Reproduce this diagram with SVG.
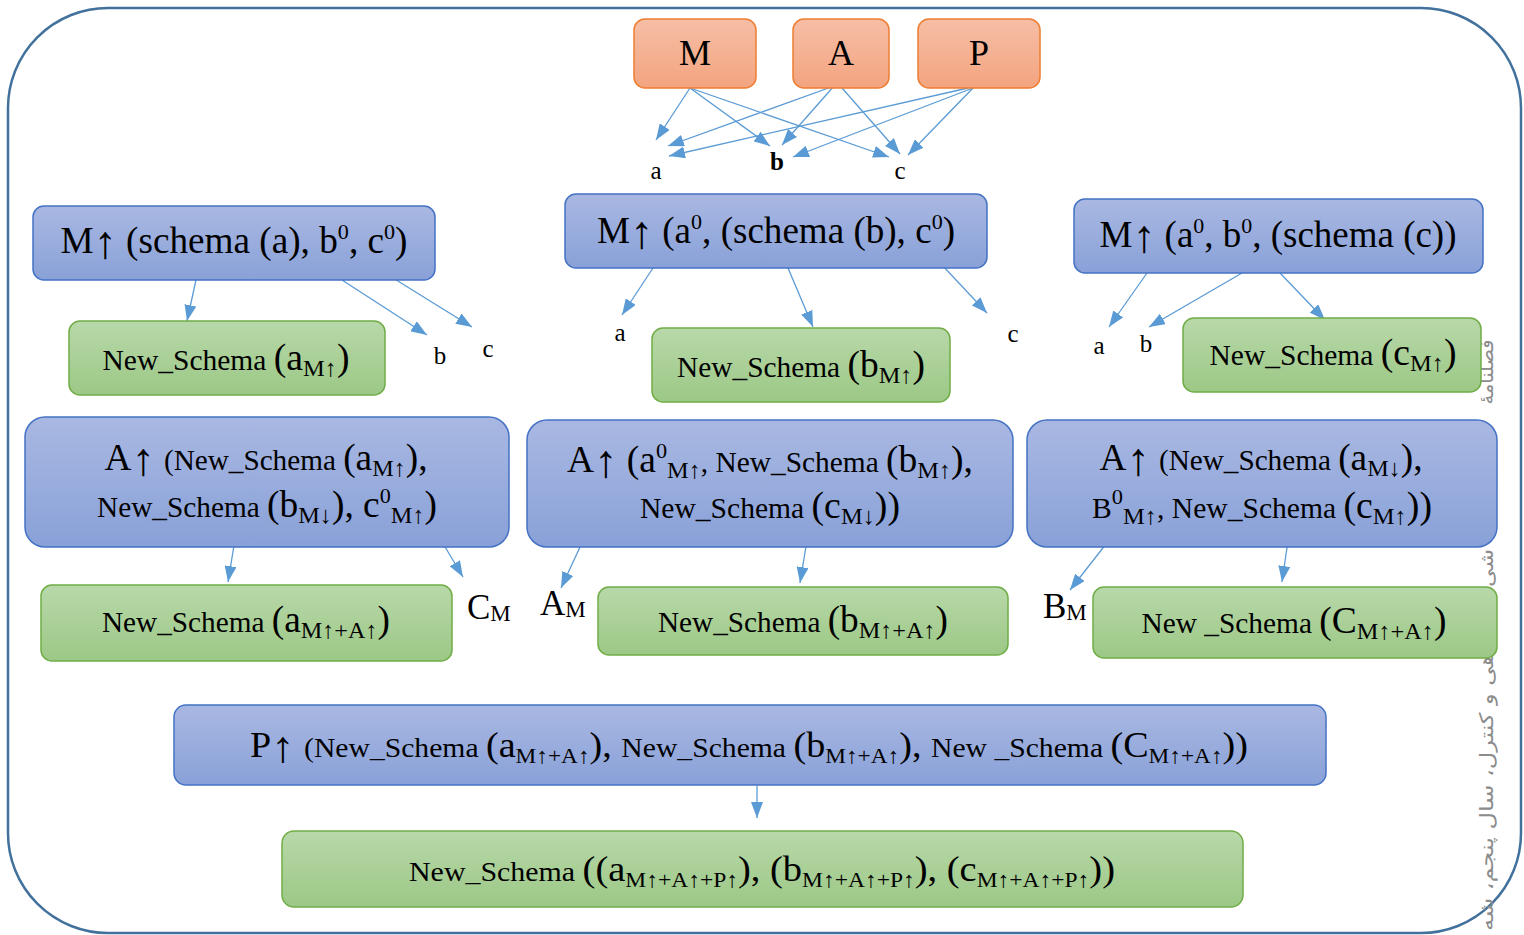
<svg xmlns="http://www.w3.org/2000/svg" width="1524" height="935" viewBox="0 0 1524 935">
<style>
.t{font-family:"Liberation Serif","Times New Roman",serif;fill:#000}
.lbl{font-family:"Liberation Serif","Times New Roman",serif;fill:#000;font-size:25px}
.blue{fill:url(#gBlue);stroke:#4472C4;stroke-width:1.5}
.green{fill:url(#gGreen);stroke:#70AD47;stroke-width:1.5}
.orange{fill:url(#gOrange);stroke:#ED7D31;stroke-width:1.5}
.con line{stroke:#5B9BD5;stroke-width:1.3;marker-end:url(#ah)}
.wm{font-family:"DejaVu Sans",sans-serif;fill:#8c8c8c;font-size:19px}
</style>
<defs>
<linearGradient id="gBlue" x1="0" y1="0" x2="0" y2="1"><stop offset="0" stop-color="#A9B8E2"/><stop offset="1" stop-color="#89A1D8"/></linearGradient>
<linearGradient id="gGreen" x1="0" y1="0" x2="0" y2="1"><stop offset="0" stop-color="#B8D8A9"/><stop offset="1" stop-color="#9CC886"/></linearGradient>
<linearGradient id="gOrange" x1="0" y1="0" x2="0" y2="1"><stop offset="0" stop-color="#F6BEA6"/><stop offset="1" stop-color="#F3A47F"/></linearGradient>
<marker id="ah" markerUnits="userSpaceOnUse" markerWidth="16" markerHeight="12" refX="16" refY="6" orient="auto"><path d="M0,0 L16,6 L0,12 z" fill="#5B9BD5"/></marker>
</defs>
<rect x="8" y="8" width="1513" height="925" rx="100" ry="100" fill="#fff" stroke="#41719C" stroke-width="2.5"/>
<g id="watermark">
<text class="wm" transform="translate(1493,372) rotate(-90)" text-anchor="middle" textLength="65" lengthAdjust="spacingAndGlyphs">فصلنامهٔ</text>
<text class="wm" transform="translate(1493,568) rotate(-90)" text-anchor="middle" textLength="38" lengthAdjust="spacingAndGlyphs">شی</text>
<text class="wm" transform="translate(1493,792) rotate(-90)" text-anchor="middle" textLength="278" lengthAdjust="spacingAndGlyphs">هی و کنترل، سال پنجم، شه</text>
</g>
<g id="connectors" class="con">
<line x1="690" y1="88" x2="656" y2="140"/>
<line x1="690" y1="88" x2="770" y2="146"/>
<line x1="690" y1="88" x2="889" y2="157"/>
<line x1="834" y1="86" x2="668" y2="146"/>
<line x1="834" y1="86" x2="782" y2="145"/>
<line x1="842" y1="88" x2="900" y2="154"/>
<line x1="968" y1="88" x2="669" y2="156"/>
<line x1="973" y1="88" x2="793" y2="157"/>
<line x1="973" y1="88" x2="908" y2="155"/>
<line x1="196" y1="280" x2="187" y2="321"/>
<line x1="342" y1="280" x2="427" y2="335"/>
<line x1="393" y1="278" x2="472" y2="327"/>
<line x1="653" y1="268" x2="622" y2="315"/>
<line x1="788" y1="268" x2="813" y2="327"/>
<line x1="942" y1="265" x2="987" y2="313"/>
<line x1="1147" y1="273" x2="1109" y2="327"/>
<line x1="1242" y1="273" x2="1149" y2="327"/>
<line x1="1280" y1="273" x2="1325" y2="320"/>
<line x1="237" y1="527" x2="228" y2="582"/>
<line x1="432" y1="525" x2="463" y2="577"/>
<line x1="587" y1="532" x2="561" y2="588"/>
<line x1="809" y1="528" x2="800" y2="583"/>
<line x1="1117" y1="530" x2="1070" y2="590"/>
<line x1="1290" y1="527" x2="1282" y2="582"/>
<line x1="757" y1="786" x2="757" y2="818"/>
</g>
<g id="labels">
<text class="lbl" x="656" y="179" text-anchor="middle">a</text>
<text class="lbl" x="777" y="170" text-anchor="middle" font-weight="bold">b</text>
<text class="lbl" x="900" y="179" text-anchor="middle">c</text>
<text class="lbl" x="440" y="364" text-anchor="middle">b</text>
<text class="lbl" x="488" y="357" text-anchor="middle">c</text>
<text class="lbl" x="620" y="341" text-anchor="middle">a</text>
<text class="lbl" x="1013" y="342" text-anchor="middle">c</text>
<text class="lbl" x="1099" y="354" text-anchor="middle">a</text>
<text class="lbl" x="1146" y="352" text-anchor="middle">b</text>
<text class="t" x="467" y="619"><tspan font-size="35">C</tspan><tspan font-size="23" dy="2">M</tspan></text>
<text class="t" x="540" y="615"><tspan font-size="35">A</tspan><tspan font-size="23" dy="2">M</tspan></text>
<text class="t" x="1043" y="618"><tspan font-size="35">B</tspan><tspan font-size="23" dy="2">M</tspan></text>
</g>
<g id="node-M"><rect class="orange" x="634" y="19" width="122" height="69" rx="11"/><text class="t" x="695" y="65" text-anchor="middle" font-size="36">M</text></g>
<g id="node-A"><rect class="orange" x="793" y="19" width="96" height="69" rx="11"/><text class="t" x="841" y="65" text-anchor="middle" font-size="36">A</text></g>
<g id="node-P"><rect class="orange" x="918" y="19" width="122" height="69" rx="11"/><text class="t" x="979" y="65" text-anchor="middle" font-size="36">P</text></g>

<g id="node-M-a"><rect class="blue" x="33" y="206" width="402" height="74" rx="11"/><text class="t" x="234" y="253" text-anchor="middle" font-size="37" textLength="347" lengthAdjust="spacingAndGlyphs">M<tspan font-size="46" dy="5">↑</tspan><tspan dy="-5"> (schema (a), b</tspan><tspan dy="-14" font-size="22">0</tspan><tspan dy="14">, c</tspan><tspan dy="-14" font-size="22">0</tspan><tspan dy="14">)</tspan></text></g>
<g id="node-M-b"><rect class="blue" x="565" y="194" width="422" height="74" rx="11"/><text class="t" x="776" y="243" text-anchor="middle" font-size="37" textLength="358" lengthAdjust="spacingAndGlyphs">M<tspan font-size="46" dy="5">↑</tspan><tspan dy="-5"> (a</tspan><tspan dy="-14" font-size="22">0</tspan><tspan dy="14">, (schema (b), c</tspan><tspan dy="-14" font-size="22">0</tspan><tspan dy="14">)</tspan></text></g>
<g id="node-M-c"><rect class="blue" x="1074" y="199" width="409" height="74" rx="11"/><text class="t" x="1278" y="247" text-anchor="middle" font-size="37" textLength="357" lengthAdjust="spacingAndGlyphs">M<tspan font-size="46" dy="5">↑</tspan><tspan dy="-5"> (a</tspan><tspan dy="-14" font-size="22">0</tspan><tspan dy="14">, b</tspan><tspan dy="-14" font-size="22">0</tspan><tspan dy="14">, (schema (c))</tspan></text></g>

<g id="node-NS-a"><rect class="green" x="69" y="321" width="316" height="74" rx="11"/><text class="t" x="226" y="370" text-anchor="middle" font-size="29" textLength="247" lengthAdjust="spacingAndGlyphs">New_Schema <tspan font-size="37">(a</tspan><tspan font-size="24" dy="6">M↑</tspan><tspan font-size="37" dy="-6">)</tspan></text></g>
<g id="node-NS-b"><rect class="green" x="652" y="328" width="298" height="74" rx="11"/><text class="t" x="801" y="377" text-anchor="middle" font-size="29" textLength="248" lengthAdjust="spacingAndGlyphs">New_Schema <tspan font-size="37">(b</tspan><tspan font-size="24" dy="6">M↑</tspan><tspan font-size="37" dy="-6">)</tspan></text></g>
<g id="node-NS-c"><rect class="green" x="1183" y="318" width="298" height="74" rx="11"/><text class="t" x="1333" y="365" text-anchor="middle" font-size="29" textLength="247" lengthAdjust="spacingAndGlyphs">New_Schema <tspan font-size="37">(c</tspan><tspan font-size="24" dy="6">M↑</tspan><tspan font-size="37" dy="-6">)</tspan></text></g>

<g id="node-A-a"><rect class="blue" x="25" y="417" width="484" height="130" rx="20"/>
<text class="t" x="266" y="470" text-anchor="middle" font-size="29" textLength="323" lengthAdjust="spacingAndGlyphs"><tspan font-size="37">A</tspan><tspan font-size="46" dy="5">↑</tspan><tspan font-size="37" dy="-5"> </tspan>(New_Schema <tspan font-size="37">(a</tspan><tspan font-size="24" dy="6">M↑</tspan><tspan font-size="37" dy="-6">),</tspan></text>
<text class="t" x="267" y="517" text-anchor="middle" font-size="29" textLength="340" lengthAdjust="spacingAndGlyphs">New_Schema <tspan font-size="37">(b</tspan><tspan font-size="24" dy="6">M↓</tspan><tspan font-size="37" dy="-6">), c</tspan><tspan font-size="22" dy="-14">0</tspan><tspan font-size="24" dy="20">M↑</tspan><tspan font-size="37" dy="-6">)</tspan></text></g>
<g id="node-A-b"><rect class="blue" x="527" y="420" width="486" height="127" rx="20"/>
<text class="t" x="770" y="472" text-anchor="middle" font-size="29" textLength="406" lengthAdjust="spacingAndGlyphs"><tspan font-size="37">A</tspan><tspan font-size="46" dy="5">↑</tspan><tspan font-size="37" dy="-5"> (a</tspan><tspan font-size="22" dy="-14">0</tspan><tspan font-size="24" dy="20">M↑</tspan><tspan dy="-6">, New_Schema </tspan><tspan font-size="37">(b</tspan><tspan font-size="24" dy="6">M↑</tspan><tspan font-size="37" dy="-6">),</tspan></text>
<text class="t" x="770" y="518" text-anchor="middle" font-size="29" textLength="260" lengthAdjust="spacingAndGlyphs">New_Schema <tspan font-size="37">(c</tspan><tspan font-size="24" dy="6">M↓</tspan><tspan font-size="37" dy="-6">))</tspan></text></g>
<g id="node-A-c"><rect class="blue" x="1027" y="420" width="470" height="127" rx="20"/>
<text class="t" x="1261" y="470" text-anchor="middle" font-size="29" textLength="323" lengthAdjust="spacingAndGlyphs"><tspan font-size="37">A</tspan><tspan font-size="46" dy="5">↑</tspan><tspan font-size="37" dy="-5"> </tspan>(New_Schema <tspan font-size="37">(a</tspan><tspan font-size="24" dy="6">M↓</tspan><tspan font-size="37" dy="-6">),</tspan></text>
<text class="t" x="1262" y="518" text-anchor="middle" font-size="29" textLength="340" lengthAdjust="spacingAndGlyphs">B<tspan font-size="22" dy="-14">0</tspan><tspan font-size="24" dy="20">M↑</tspan><tspan dy="-6">, New_Schema </tspan><tspan font-size="37">(c</tspan><tspan font-size="24" dy="6">M↑</tspan><tspan font-size="37" dy="-6">))</tspan></text></g>

<g id="node-NS-a2"><rect class="green" x="41" y="585" width="411" height="76" rx="11"/><text class="t" x="246" y="632" text-anchor="middle" font-size="29" textLength="288" lengthAdjust="spacingAndGlyphs">New_Schema <tspan font-size="37">(a</tspan><tspan font-size="24" dy="6">M↑+A↑</tspan><tspan font-size="37" dy="-6">)</tspan></text></g>
<g id="node-NS-b2"><rect class="green" x="598" y="587" width="410" height="68" rx="11"/><text class="t" x="803" y="632" text-anchor="middle" font-size="29" textLength="290" lengthAdjust="spacingAndGlyphs">New_Schema <tspan font-size="37">(b</tspan><tspan font-size="24" dy="6">M↑+A↑</tspan><tspan font-size="37" dy="-6">)</tspan></text></g>
<g id="node-NS-c2"><rect class="green" x="1093" y="587" width="404" height="71" rx="11"/><text class="t" x="1294" y="633" text-anchor="middle" font-size="29" textLength="305" lengthAdjust="spacingAndGlyphs">New _Schema <tspan font-size="37">(C</tspan><tspan font-size="24" dy="6">M↑+A↑</tspan><tspan font-size="37" dy="-6">)</tspan></text></g>

<g id="node-P-all"><rect class="blue" x="174" y="705" width="1152" height="80" rx="12"/>
<text class="t" x="749" y="757" text-anchor="middle" font-size="28" textLength="998" lengthAdjust="spacingAndGlyphs"><tspan font-size="36">P</tspan><tspan font-size="44" dy="5">↑</tspan><tspan font-size="36" dy="-5"> </tspan>(New_Schema <tspan font-size="36">(a</tspan><tspan font-size="22" dy="6">M↑+A↑</tspan><tspan font-size="36" dy="-6">), </tspan>New_Schema <tspan font-size="36">(b</tspan><tspan font-size="22" dy="6">M↑+A↑</tspan><tspan font-size="36" dy="-6">), </tspan>New _Schema <tspan font-size="36">(C</tspan><tspan font-size="22" dy="6">M↑+A↑</tspan><tspan font-size="36" dy="-6">))</tspan></text></g>
<g id="node-final"><rect class="green" x="282" y="831" width="961" height="76" rx="12"/>
<text class="t" x="762" y="881" text-anchor="middle" font-size="28" textLength="706" lengthAdjust="spacingAndGlyphs">New_Schema <tspan font-size="36">((a</tspan><tspan font-size="22" dy="6">M↑+A↑+P↑</tspan><tspan font-size="36" dy="-6">), (b</tspan><tspan font-size="22" dy="6">M↑+A↑+P↑</tspan><tspan font-size="36" dy="-6">), (c</tspan><tspan font-size="22" dy="6">M↑+A↑+P↑</tspan><tspan font-size="36" dy="-6">))</tspan></text></g>
</svg>
